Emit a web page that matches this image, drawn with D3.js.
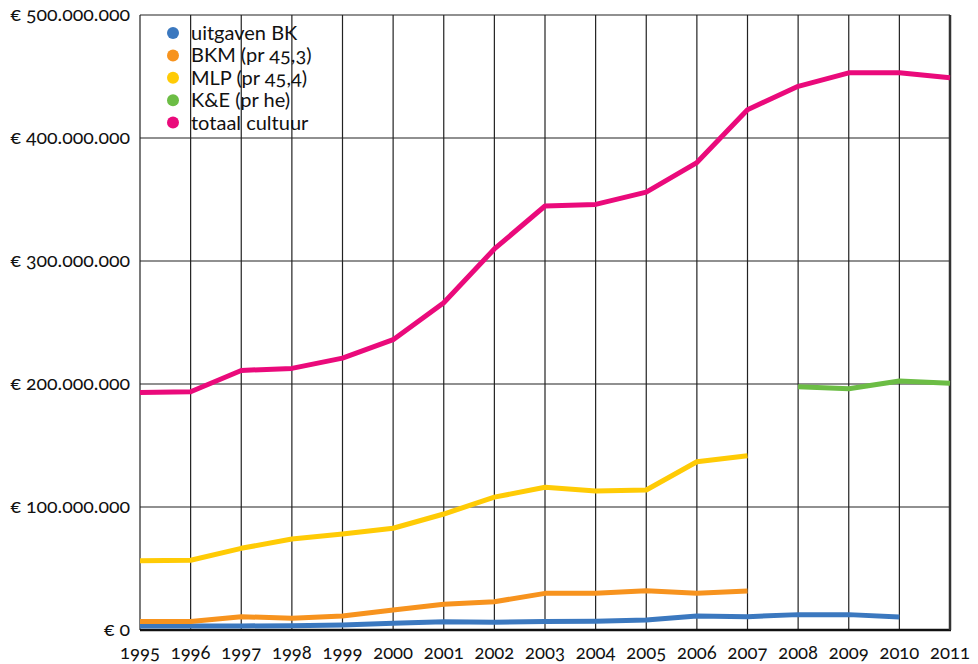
<!DOCTYPE html>
<html>
<head>
<meta charset="utf-8">
<script src="https://cdn.jsdelivr.net/npm/d3@7"></script>
<style>
  body { margin: 0; background: #fff; }
  svg text { font-family: Lato, "Open Sans", sans-serif; fill: #111; font-variant-numeric: oldstyle-nums; }
</style>
</head>
<body>
<div id="chart"></div>
<script>
'use strict';

const years = d3.range(1995, 2012);
const yTicks = [0, 100e6, 200e6, 300e6, 400e6, 500e6];

// values in million euro
const uitgavenBK = [3.3, 3.3, 3.3, 3.5, 4, 5.4, 6.8, 6.3, 7, 7.2, 8.1, 11.4, 10.8, 12.5, 12.5, 10.6, null];
const bkm = [7, 7, 10.8, 9.5, 11.4, 16.3, 20.9, 23, 29.8, 29.8, 32, 29.8, 31.7, null, null, null, null];
const mlp = [56.4, 56.7, 66.4, 74, 78, 82.7, 94.3, 108, 116, 113, 113.8, 136.8, 141.7, null, null, null, null];
const kenE = [null, null, null, null, null, null, null, null, null, null, null, null, null, 197.8, 196.2, 202.4, 200.6];
const totaal = [193, 193.7, 211, 212.7, 221, 236, 266, 309.8, 344.7, 346, 356, 380, 423, 442, 453, 453, 449];

const seriesNames = ['uitgaven BK', 'BKM (pr 45,3)', 'MLP (pr 45,4)', 'K&E (pr he)', 'totaal cultuur'];
const seriesValues = [uitgavenBK, bkm, mlp, kenE, totaal];
const colors = ['#3b78bf', '#f7931e', '#ffcb05', '#6cbd45', '#ea0a7b'];

const width = 978, height = 664;
const margin = {top: 15, right: 28, bottom: 34, left: 140};

const x = d3.scaleLinear()
    .domain([1995, 2011])
    .range([margin.left, width - margin.right]);
const y = d3.scaleLinear()
    .domain([0, 500e6])
    .range([height - margin.bottom, margin.top]);

const fmt = v => '€ ' + d3.format(',')(v).replace(/,/g, '.');

const svg = d3.select('#chart').append('svg')
    .attr('width', width)
    .attr('height', height);

// grid
svg.append('g')
    .selectAll('line')
    .data(years)
    .join('line')
        .attr('x1', d => x(d)).attr('x2', d => x(d))
        .attr('y1', y(500e6)).attr('y2', y(0))
        .attr('stroke', '#222').attr('stroke-width', 1.2);
svg.append('g')
    .selectAll('line')
    .data(yTicks)
    .join('line')
        .attr('x1', x(1995)).attr('x2', x(2011))
        .attr('y1', d => y(d)).attr('y2', d => y(d))
        .attr('stroke', '#222').attr('stroke-width', 1.2);

// axes frame
svg.append('line')
    .attr('x1', x(1995)).attr('x2', x(2011) + 1)
    .attr('y1', y(0)).attr('y2', y(0))
    .attr('stroke', '#111').attr('stroke-width', 2.5);
svg.append('line')
    .attr('x1', x(2011)).attr('x2', x(2011))
    .attr('y1', y(500e6)).attr('y2', y(0))
    .attr('stroke', '#333').attr('stroke-width', 2.5);

// tick labels
svg.append('g')
    .selectAll('text')
    .data(yTicks)
    .join('text')
        .attr('x', margin.left - 10)
        .attr('y', d => y(d))
        .attr('dy', '0.3em')
        .attr('text-anchor', 'end')
        .style('font-size', '19.5px')
        .text(fmt);
svg.append('g')
    .selectAll('text')
    .data(years)
    .join('text')
        .attr('x', d => x(d))
        .attr('y', y(0) + 29)
        .attr('text-anchor', 'middle')
        .style('font-size', '18.5px')
        .text(d => d);

// lines
const line = d3.line()
    .defined(d => d.v != null)
    .x(d => x(d.year))
    .y(d => y(d.v * 1e6));

svg.append('g')
    .selectAll('path')
    .data(seriesValues)
    .join('path')
        .attr('d', vals => line(vals.map((v, i) => ({year: years[i], v: v}))))
        .attr('fill', 'none')
        .attr('stroke', (d, i) => colors[i])
        .attr('stroke-width', 5)
        .attr('stroke-linejoin', 'round');

// legend
const legend = svg.append('g')
    .attr('transform', 'translate(173, 33)');
const rows = legend.selectAll('g')
    .data(seriesNames)
    .join('g')
        .attr('transform', (d, i) => `translate(0, ${i * 22.4})`);
rows.append('circle')
    .attr('r', 6)
    .attr('fill', (d, i) => colors[i]);
rows.append('text')
    .attr('x', 18)
    .attr('dy', '0.35em')
    .style('font-size', '20px')
    .text(d => d);
</script>
</body>
</html>
